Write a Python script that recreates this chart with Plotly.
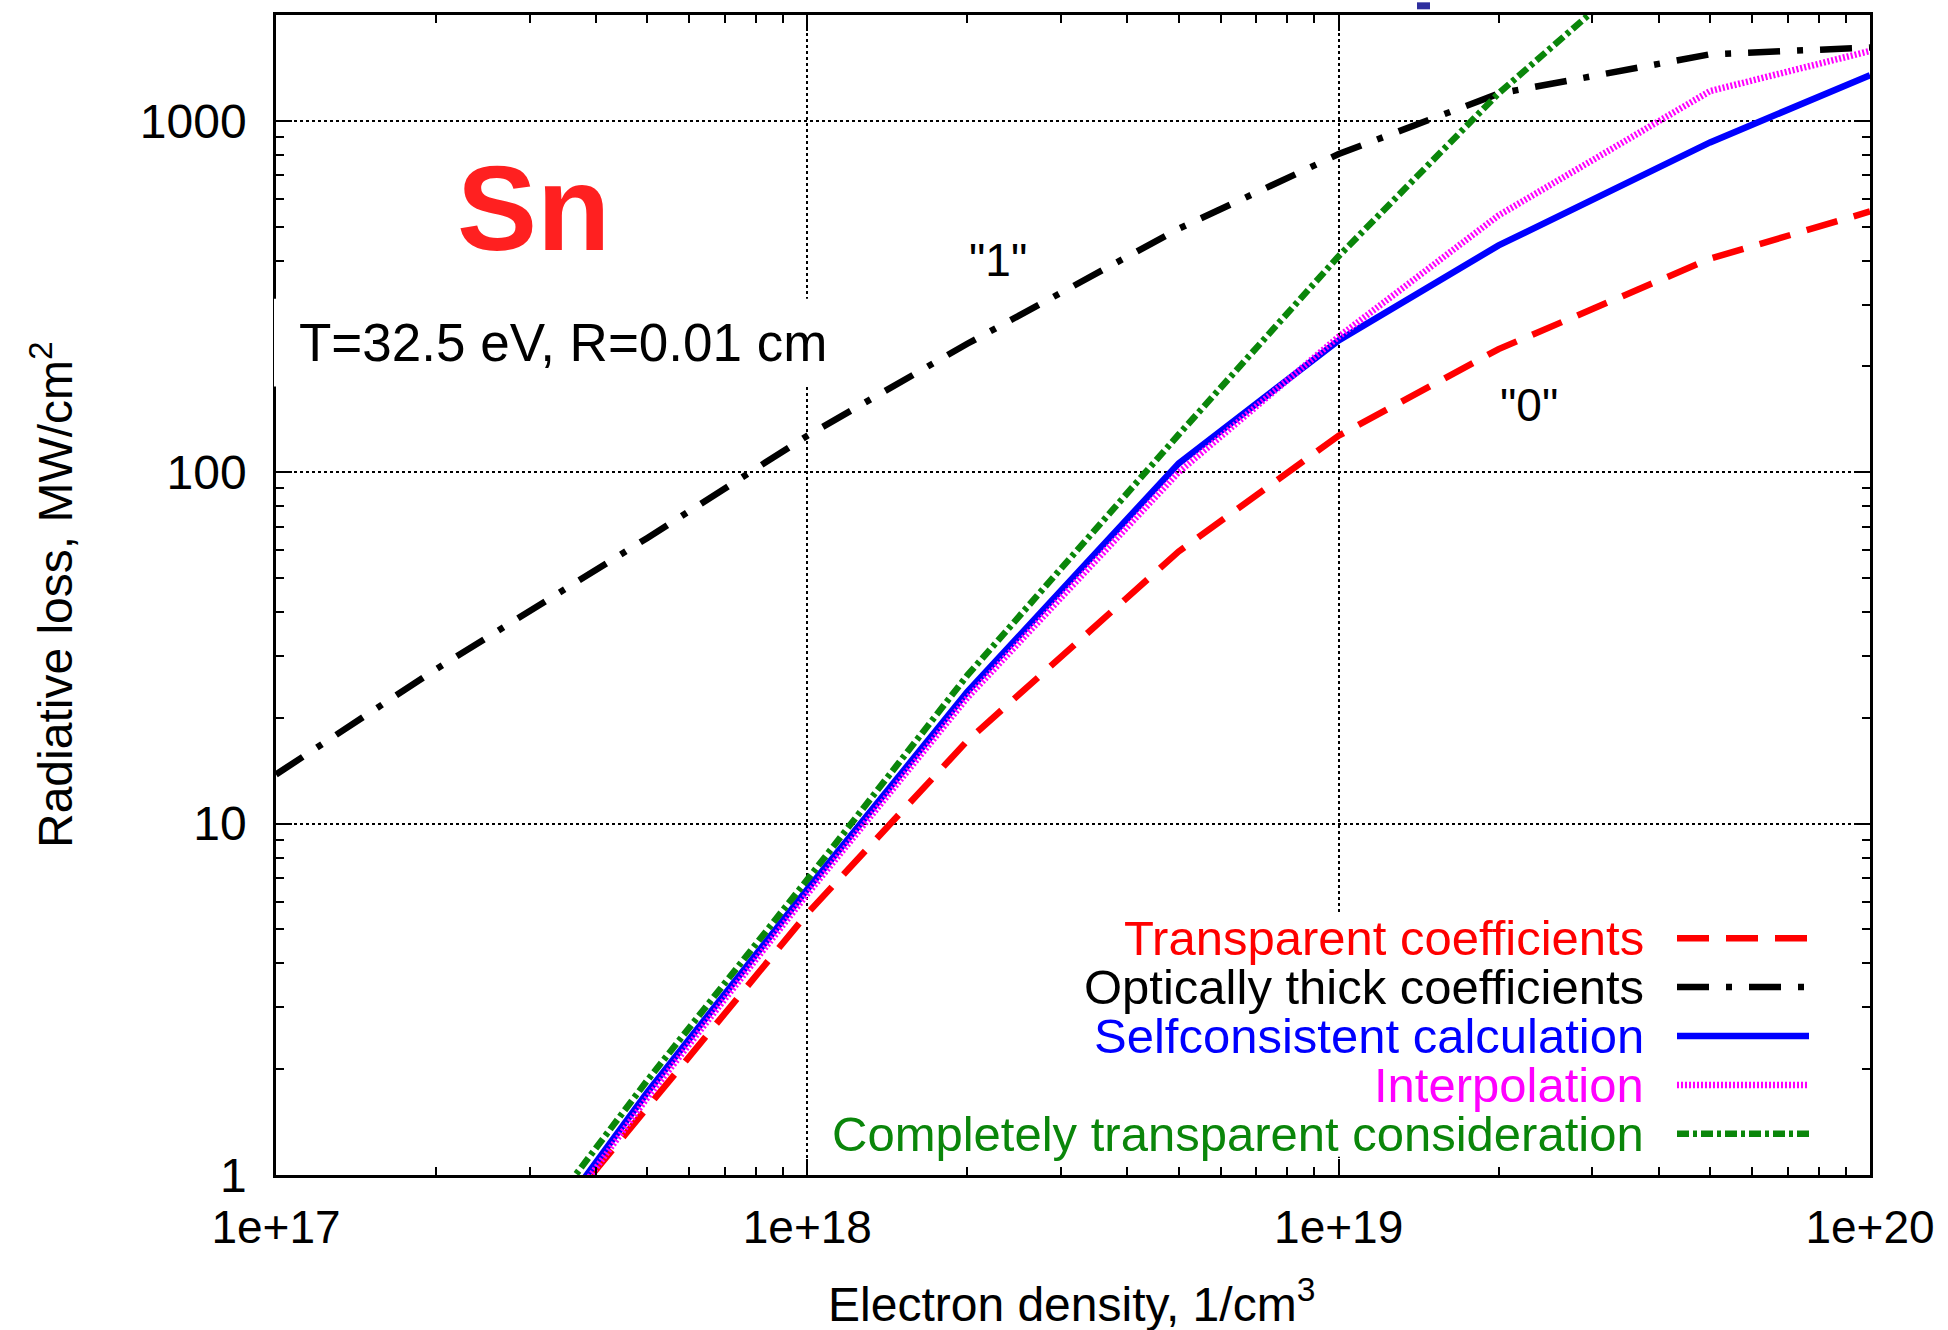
import plotly.graph_objects as go

# ---------------- data ----------------
density_thick = [1e17, 2e17, 5e17, 1e18, 2e18, 5e18, 1e19, 2e19, 5e19, 1e20]
thick_coeff = [13.8, 27.5, 65, 127, 232, 493, 804, 1195, 1546, 1616]

density = [2e17, 5e17, 1e18, 2e18, 5e18, 1e19, 2e19, 5e19, 1e20]
transparent_coeff = [0.29, 1.57, 5.55, 17.2, 59.5, 127, 224, 405, 552]
selfconsistent = [0.26, 1.72, 6.5, 23.7, 106, 237, 442, 868, 1348]
interpolation = [0.25, 1.66, 6.3, 22.8, 100, 243, 538, 1215, 1580]

density_green = [2e17, 5e17, 1e18, 2e18, 5e18, 1e19, 2e19, 5e19]
complete_transparent = [0.30, 1.86, 6.93, 26.4, 128, 412, 1197, 4000]

series_names = ["Transparent coefficients", "Optically thick coefficients",
                "Selfconsistent calculation", "Interpolation",
                "Completely transparent consideration"]
series_colors = ["#ff0000", "#000000", "#0000ff", "#ff00ff", "#0a860a"]
series_dash = ["32px,17px", "32px,17px,6px,17px", "solid", "2px,2px", "12px,4px,4px,4px"]
series_width = [6.5, 6.5, 6.5, 6.5, 6.5]

x_tickvals = [1e17, 1e18, 1e19, 1e20]
x_ticktext = ["1e+17", "1e+18", "1e+19", "1e+20"]
y_tickvals = [1, 10, 100, 1000]
y_ticktext = ["1", "10", "100", "1000"]

# ---------------- geometry helpers (pixel -> paper) ----------------
W, H = 1948, 1330
L, R, T, B = 276, 1870, 12.7, 1175.3


def px(x):
    return (x - L) / (R - L)


def py(y):
    return (B - y) / (B - T)


FONT = "Liberation Sans, Arial, Helvetica, sans-serif"

fig = go.Figure()
xs = [density, density_thick, density, density, density_green]
ys = [transparent_coeff, thick_coeff, selfconsistent, interpolation, complete_transparent]
for i in range(5):
    fig.add_trace(go.Scatter(
        x=xs[i], y=ys[i], mode="lines", name=series_names[i],
        line=dict(color=series_colors[i], width=series_width[i], dash=series_dash[i]),
        showlegend=False, cliponaxis=True,
    ))

minor_x = [float(m) * 10.0 ** e for e in range(17, 20) for m in range(2, 10)]
minor_y = [float(m) * 10.0 ** e for e in range(0, 4) for m in range(2, 10) if m * 10 ** e < 2000]

axis_common = dict(
    type="log", showline=True, linecolor="black", linewidth=2.5, mirror="ticks",
    ticks="inside", ticklen=16, tickwidth=2, tickcolor="black",
    showgrid=True, gridcolor="black", griddash="dot", gridwidth=2,
    zeroline=False, tickmode="array",
)

fig.update_xaxes(**axis_common, range=[17, 20], tickvals=x_tickvals, ticktext=x_ticktext,
                 ticklabelstandoff=10,
                 tickfont=dict(family=FONT, size=46, color="black"),
                 minor=dict(tickmode="array", tickvals=minor_x, ticks="inside", ticklen=8,
                            tickwidth=2, tickcolor="black", showgrid=False))
fig.update_yaxes(**axis_common, range=[0, 3.30103], tickvals=y_tickvals, ticktext=y_ticktext,
                 ticklabelstandoff=17,
                 tickfont=dict(family=FONT, size=48, color="black"),
                 minor=dict(tickmode="array", tickvals=minor_y, ticks="inside", ticklen=8,
                            tickwidth=2, tickcolor="black", showgrid=False))

shapes = []
annotations = []

# white box behind the legend (covers gridline)
shapes.append(dict(type="rect", xref="paper", yref="paper",
                   x0=px(830), x1=px(1835), y0=py(1157), y1=py(913),
                   fillcolor="white", line=dict(width=0), layer="above"))
# white box behind parameter text (covers the axis line)
shapes.append(dict(type="rect", xref="paper", yref="paper",
                   x0=px(274), x1=px(838), y0=py(385), y1=py(297),
                   fillcolor="white", line=dict(width=0), layer="above"))
# fragment of a cut-off blue glyph at the very top
shapes.append(dict(type="rect", xref="paper", yref="paper",
                   x0=px(1417), x1=px(1430), y0=py(7), y1=py(0),
                   fillcolor="#2e2e9e", line=dict(width=0), layer="above"))

# custom gnuplot-style legend: text right-aligned, sample on the right
legend_rows = [938, 987, 1036, 1085, 1134]
for i in range(5):
    annotations.append(dict(
        xref="paper", yref="paper", x=px(1646), y=py(legend_rows[i]),
        xanchor="right", yanchor="middle", showarrow=False,
        text=series_names[i], font=dict(family=FONT, size=49, color=series_colors[i]),
    ))
    shapes.append(dict(type="line", xref="paper", yref="paper",
                       x0=px(1677), x1=px(1809), y0=py(legend_rows[i]), y1=py(legend_rows[i]),
                       line=dict(color=series_colors[i], width=series_width[i], dash=series_dash[i]),
                       layer="above"))

annotations += [
    dict(xref="paper", yref="paper", x=px(533), y=py(206), xanchor="center", yanchor="middle",
         showarrow=False, text="<b>Sn</b>", font=dict(family=FONT, size=120, color="#ff2020")),
    dict(xref="paper", yref="paper", x=px(297), y=py(341), xanchor="left", yanchor="middle",
         showarrow=False, text="T=32.5 eV, R=0.01 cm", font=dict(family=FONT, size=53, color="black")),
    dict(xref="paper", yref="paper", x=px(998), y=py(258), xanchor="center", yanchor="middle",
         showarrow=False, text='"1"', font=dict(family=FONT, size=46, color="black")),
    dict(xref="paper", yref="paper", x=px(1529), y=py(404), xanchor="center", yanchor="middle",
         showarrow=False, text='"0"', font=dict(family=FONT, size=46, color="black")),
    dict(xref="paper", yref="paper", x=px(52), y=0.5, xanchor="center", yanchor="middle",
         textangle=-90, showarrow=False, text="Radiative loss, MW/cm<sup>2</sup>",
         font=dict(family=FONT, size=48, color="black")),
    dict(xref="paper", yref="paper", x=px(1071), y=py(1302), xanchor="center", yanchor="middle",
         showarrow=False, text="Electron density, 1/cm<sup>3</sup>",
         font=dict(family=FONT, size=48, color="black")),
]

fig.update_layout(
    width=W, height=H, autosize=False,
    margin=dict(l=L, r=W - R, t=T, b=H - B, pad=0),
    paper_bgcolor="white", plot_bgcolor="white",
    showlegend=False, shapes=shapes, annotations=annotations,
    font=dict(family=FONT, color="black"),
)

fig.write_html("out.html", config={"displayModeBar": False},
               post_script="document.body.style.margin='0';document.body.style.overflow='hidden';")
